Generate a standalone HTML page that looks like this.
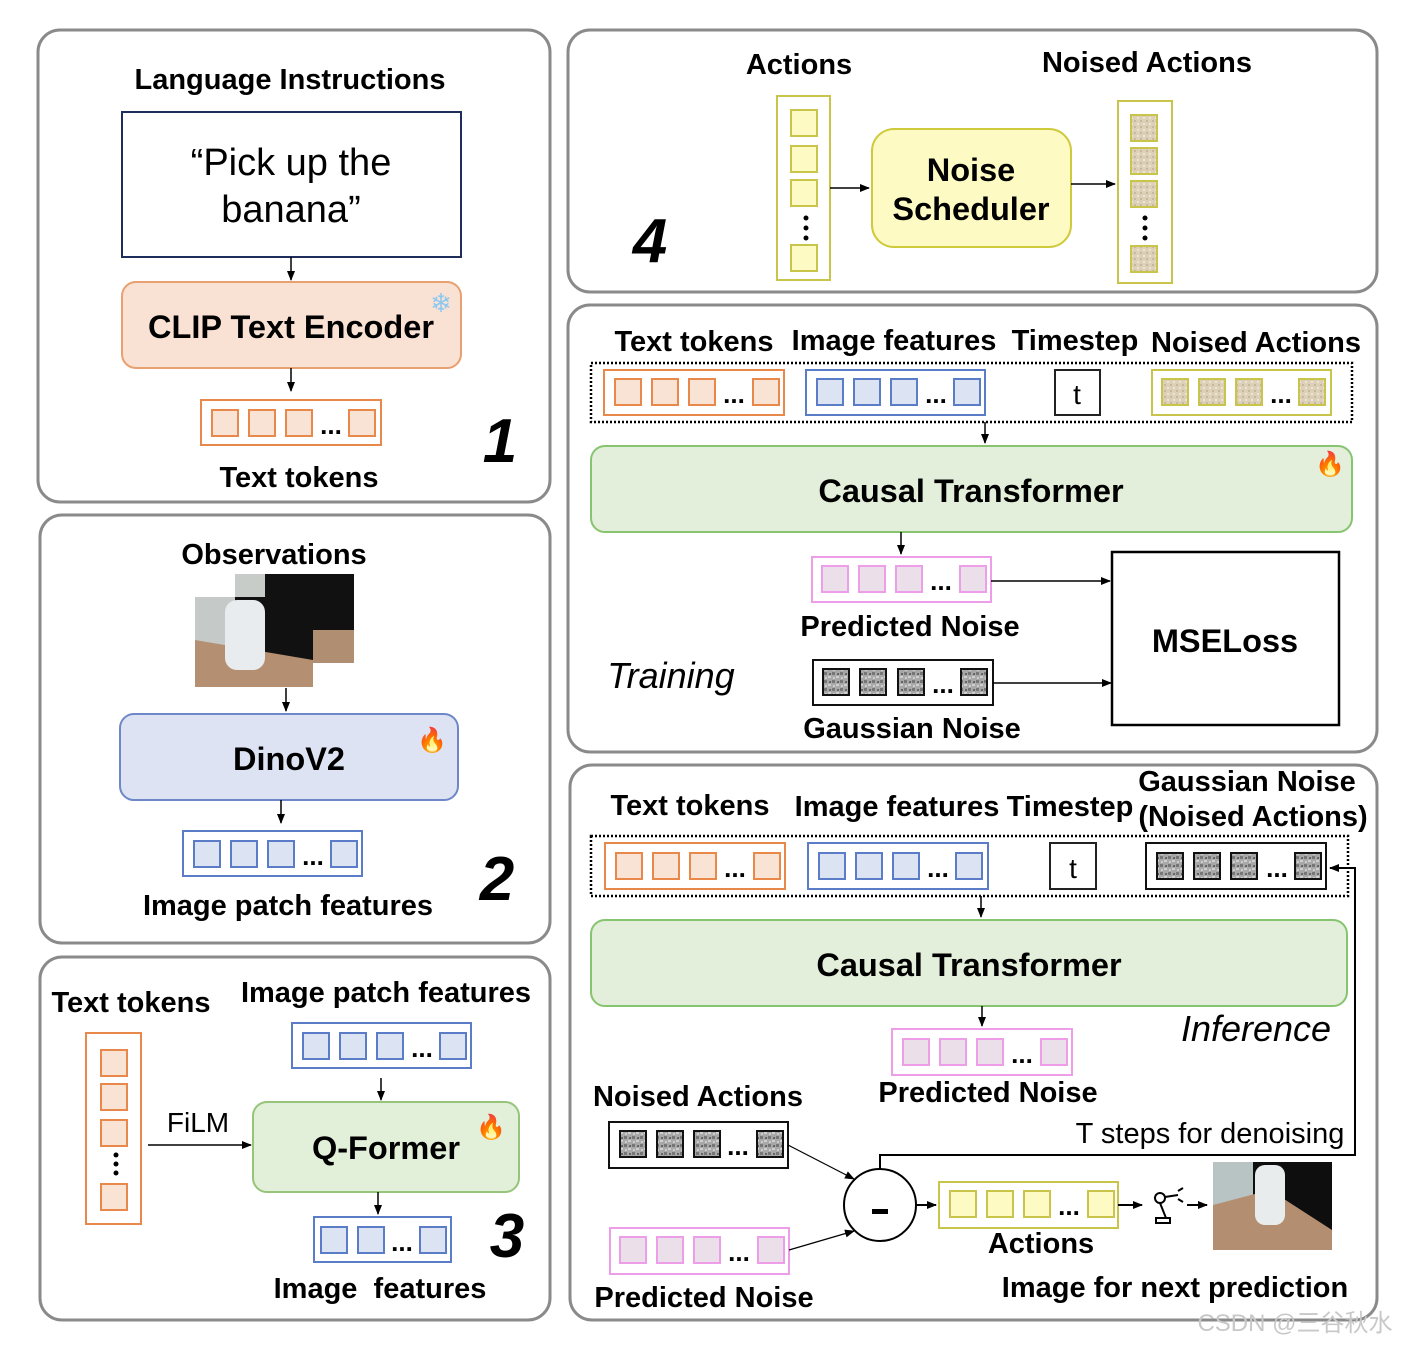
<!DOCTYPE html>
<html><head><meta charset="utf-8"><style>
html,body{margin:0;padding:0;background:#fff;}
svg{display:block;}
text{font-family:"Liberation Sans",Arial,sans-serif;}
.b{font-weight:bold;fill:#000;}
</style></head><body>
<svg width="1404" height="1346" viewBox="0 0 1404 1346" xmlns="http://www.w3.org/2000/svg">
<defs>
<marker id="ar" markerWidth="10" markerHeight="10" refX="9" refY="5" orient="auto" markerUnits="userSpaceOnUse"><path d="M0,1 L10,5 L0,9 z" fill="#000"/></marker>
<pattern id="gn" width="8" height="8" patternUnits="userSpaceOnUse"><rect width="8" height="8" fill="#a8a8a8"/><rect x="0" y="0" width="3" height="3" fill="#777"/><rect x="4" y="4" width="3" height="2" fill="#d0d0d0"/><rect x="5" y="1" width="2" height="2" fill="#666"/><rect x="1" y="5" width="2" height="2" fill="#ccc"/></pattern>
<pattern id="bn" width="6" height="6" patternUnits="userSpaceOnUse"><rect width="6" height="6" fill="#ddd0b8"/><rect x="0" y="0" width="2" height="2" fill="#c8b99c"/><rect x="3" y="3" width="2" height="2" fill="#eee4d2"/></pattern>
</defs>

<g fill="none" stroke="#8a8a8a" stroke-width="3">
<rect x="38" y="30" width="512" height="472" rx="22"/>
<rect x="40" y="515" width="510" height="428" rx="22"/>
<rect x="40" y="957" width="510" height="363" rx="22"/>
<rect x="568" y="30" width="809" height="262" rx="22"/>
<rect x="568" y="305" width="809" height="447" rx="22"/>
<rect x="570" y="765" width="807" height="555" rx="22"/>
</g>

<!-- Panel 1 -->
<text class="b" x="290" y="89" font-size="29" text-anchor="middle">Language Instructions</text>
<rect x="122" y="112" width="339" height="145" fill="#fff" stroke="#1f2d5a" stroke-width="2"/>
<text x="291" y="175" font-size="38" text-anchor="middle">“Pick up the</text>
<text x="291" y="222" font-size="38" text-anchor="middle">banana”</text>
<line x1="291" y1="257" x2="291" y2="280" stroke="#000" stroke-width="1.5" marker-end="url(#ar)"/>
<rect x="122" y="282" width="339" height="86" rx="14" fill="#f9e2d3" stroke="#e8a070" stroke-width="2"/>
<text class="b" x="291" y="338" font-size="32.5" text-anchor="middle">CLIP Text Encoder</text>
<text x="441" y="312" font-size="26" fill="#8cc8f0" text-anchor="middle">❄</text>
<line x1="291" y1="368" x2="291" y2="391" stroke="#000" stroke-width="1.5" marker-end="url(#ar)"/>
<g stroke="#e8884a" stroke-width="2" fill="#f8e3d4">
<rect x="201" y="400" width="180" height="45" fill="none"/>
<rect x="212" y="410" width="26" height="26"/><rect x="249" y="410" width="26" height="26"/><rect x="286" y="410" width="26" height="26"/><rect x="349" y="410" width="26" height="26"/>
</g>
<text class="b" x="331" y="434" font-size="26" text-anchor="middle">...</text>
<text class="b" x="299" y="487" font-size="29" text-anchor="middle">Text tokens</text>
<text class="b" x="500" y="462" font-size="62" font-style="italic" text-anchor="middle">1</text>

<!-- Panel 2 -->
<text class="b" x="274" y="564" font-size="29" text-anchor="middle">Observations</text>
<rect x="235" y="574" width="119" height="89" fill="#111"/>
<rect x="235" y="574" width="30" height="89" fill="#c8ccc8"/>
<rect x="235" y="630" width="119" height="33" fill="#b08e72"/>
<rect x="195" y="597" width="118" height="90" fill="#111"/>
<rect x="195" y="597" width="40" height="90" fill="#c5cac8"/>
<polygon points="195,640 313,660 313,687 195,687" fill="#b48f72"/>
<rect x="225" y="600" width="40" height="70" fill="#e8ecee" rx="12"/>
<line x1="286" y1="688" x2="286" y2="711" stroke="#000" stroke-width="1.5" marker-end="url(#ar)"/>
<rect x="120" y="714" width="338" height="86" rx="14" fill="#dde3f2" stroke="#6e87c8" stroke-width="2"/>
<text class="b" x="289" y="770" font-size="32.5" text-anchor="middle">DinoV2</text>
<text x="432" y="748" font-size="24" fill="#f05a1a" text-anchor="middle">🔥</text>
<line x1="281" y1="800" x2="281" y2="823" stroke="#000" stroke-width="1.5" marker-end="url(#ar)"/>
<g stroke="#5b7cc6" stroke-width="2" fill="#dce3f3">
<rect x="183" y="831" width="179" height="45" fill="none"/>
<rect x="194" y="841" width="26" height="26"/><rect x="231" y="841" width="26" height="26"/><rect x="268" y="841" width="26" height="26"/><rect x="331" y="841" width="26" height="26"/>
</g>
<text class="b" x="313" y="865" font-size="26" text-anchor="middle">...</text>
<text class="b" x="288" y="915" font-size="29" text-anchor="middle">Image patch features</text>
<text class="b" x="497" y="900" font-size="62" font-style="italic" text-anchor="middle">2</text>

<!-- Panel 3 -->
<text class="b" x="131" y="1012" font-size="29" text-anchor="middle">Text tokens</text>
<text class="b" x="386" y="1002" font-size="29" text-anchor="middle">Image patch features</text>
<g stroke="#e8884a" stroke-width="2" fill="#f8e3d4">
<rect x="86" y="1033" width="55" height="191" fill="none"/>
<rect x="101" y="1050" width="26" height="26"/><rect x="101" y="1084" width="26" height="26"/><rect x="101" y="1120" width="26" height="26"/><rect x="101" y="1184" width="26" height="26"/>
</g>
<g fill="#000"><circle cx="116" cy="1155" r="2.5"/><circle cx="116" cy="1164" r="2.5"/><circle cx="116" cy="1173" r="2.5"/></g>
<g stroke="#5b7cc6" stroke-width="2" fill="#dce3f3">
<rect x="292" y="1023" width="179" height="45" fill="none"/>
<rect x="303" y="1033" width="26" height="26"/><rect x="340" y="1033" width="26" height="26"/><rect x="377" y="1033" width="26" height="26"/><rect x="440" y="1033" width="26" height="26"/>
</g>
<text class="b" x="422" y="1057" font-size="26" text-anchor="middle">...</text>
<line x1="381" y1="1078" x2="381" y2="1100" stroke="#000" stroke-width="1.5" marker-end="url(#ar)"/>
<rect x="253" y="1102" width="266" height="90" rx="14" fill="#e3f0d9" stroke="#95c47a" stroke-width="2"/>
<text class="b" x="386" y="1159" font-size="32.5" text-anchor="middle">Q-Former</text>
<text x="491" y="1135" font-size="24" fill="#f05a1a" text-anchor="middle">🔥</text>
<text x="198" y="1132" font-size="28" text-anchor="middle">FiLM</text>
<line x1="148" y1="1145" x2="251" y2="1145" stroke="#000" stroke-width="1.5" marker-end="url(#ar)"/>
<line x1="378" y1="1192" x2="378" y2="1214" stroke="#000" stroke-width="1.5" marker-end="url(#ar)"/>
<g stroke="#5b7cc6" stroke-width="2" fill="#dce3f3">
<rect x="314" y="1217" width="137" height="45" fill="none"/>
<rect x="321" y="1227" width="26" height="26"/><rect x="358" y="1227" width="26" height="26"/><rect x="420" y="1227" width="26" height="26"/>
</g>
<text class="b" x="402" y="1251" font-size="26" text-anchor="middle">...</text>
<text class="b" x="380" y="1298" font-size="29" text-anchor="middle" xml:space="preserve">Image  features</text>
<text class="b" x="507" y="1257" font-size="62" font-style="italic" text-anchor="middle">3</text>

<!-- Panel 4 -->
<text class="b" x="799" y="74" font-size="29" text-anchor="middle">Actions</text>
<text class="b" x="1147" y="72" font-size="29" text-anchor="middle">Noised Actions</text>
<g stroke="#c9c54a" stroke-width="2" fill="#fdfbc3">
<rect x="777" y="96" width="53" height="184" fill="none"/>
<rect x="791" y="110" width="26" height="26"/><rect x="791" y="146" width="26" height="26"/><rect x="791" y="180" width="26" height="26"/><rect x="791" y="245" width="26" height="26"/>
</g>
<g fill="#000"><circle cx="806" cy="218" r="2.5"/><circle cx="806" cy="228" r="2.5"/><circle cx="806" cy="238" r="2.5"/></g>
<line x1="830" y1="188" x2="869" y2="188" stroke="#000" stroke-width="1.5" marker-end="url(#ar)"/>
<rect x="872" y="129" width="199" height="118" rx="22" fill="#fdfbc3" stroke="#cfca3c" stroke-width="2"/>
<text class="b" x="971" y="181" font-size="32.5" text-anchor="middle">Noise</text>
<text class="b" x="971" y="220" font-size="32.5" text-anchor="middle">Scheduler</text>
<line x1="1071" y1="184" x2="1115" y2="184" stroke="#000" stroke-width="1.5" marker-end="url(#ar)"/>
<g stroke="#c9c54a" stroke-width="2" fill="url(#bn)">
<rect x="1118" y="101" width="54" height="182" fill="none"/>
<rect x="1131" y="115" width="26" height="26"/><rect x="1131" y="148" width="26" height="26"/><rect x="1131" y="181" width="26" height="26"/><rect x="1131" y="246" width="26" height="26"/>
</g>
<g fill="#000"><circle cx="1145" cy="218" r="2.5"/><circle cx="1145" cy="228" r="2.5"/><circle cx="1145" cy="238" r="2.5"/></g>
<text class="b" x="650" y="262" font-size="62" font-style="italic" text-anchor="middle">4</text>

<!-- Panel 5 -->
<text class="b" x="694" y="351" font-size="29" text-anchor="middle">Text tokens</text>
<text class="b" x="894" y="350" font-size="29" text-anchor="middle">Image features</text>
<text class="b" x="1075" y="350" font-size="29" text-anchor="middle">Timestep</text>
<text class="b" x="1256" y="352" font-size="29" text-anchor="middle">Noised Actions</text>
<rect x="591" y="363" width="761" height="59" fill="none" stroke="#000" stroke-width="2.5" stroke-dasharray="2,2"/>
<g stroke="#e8884a" stroke-width="2" fill="#f8e3d4">
<rect x="604" y="370" width="180" height="45" fill="none"/>
<rect x="615" y="379" width="26" height="26"/><rect x="652" y="379" width="26" height="26"/><rect x="689" y="379" width="26" height="26"/><rect x="753" y="379" width="26" height="26"/>
</g>
<text class="b" x="734" y="403" font-size="26" text-anchor="middle">...</text>
<g stroke="#5b7cc6" stroke-width="2" fill="#dce3f3">
<rect x="806" y="370" width="179" height="45" fill="none"/>
<rect x="817" y="379" width="26" height="26"/><rect x="854" y="379" width="26" height="26"/><rect x="891" y="379" width="26" height="26"/><rect x="954" y="379" width="26" height="26"/>
</g>
<text class="b" x="936" y="403" font-size="26" text-anchor="middle">...</text>
<rect x="1055" y="370" width="45" height="45" fill="#fff" stroke="#222" stroke-width="2"/>
<text x="1077" y="404" font-size="28" text-anchor="middle" font-family="Liberation Serif">t</text>
<g stroke="#c9c54a" stroke-width="2" fill="url(#bn)">
<rect x="1152" y="370" width="179" height="45" fill="none"/>
<rect x="1162" y="379" width="26" height="26"/><rect x="1199" y="379" width="26" height="26"/><rect x="1236" y="379" width="26" height="26"/><rect x="1299" y="379" width="26" height="26"/>
</g>
<text class="b" x="1281" y="403" font-size="26" text-anchor="middle">...</text>
<line x1="985" y1="422" x2="985" y2="443" stroke="#000" stroke-width="1.5" marker-end="url(#ar)"/>
<rect x="591" y="446" width="761" height="86" rx="14" fill="#e3efda" stroke="#87c470" stroke-width="2"/>
<text class="b" x="971" y="502" font-size="32.5" text-anchor="middle">Causal Transformer</text>
<text x="1330" y="472" font-size="24" fill="#f05a1a" text-anchor="middle">🔥</text>
<line x1="901" y1="532" x2="901" y2="554" stroke="#000" stroke-width="1.5" marker-end="url(#ar)"/>
<g stroke="#ee9de8" stroke-width="2" fill="#ebdfe9">
<rect x="812" y="557" width="179" height="45" fill="none"/>
<rect x="822" y="566" width="26" height="26"/><rect x="859" y="566" width="26" height="26"/><rect x="896" y="566" width="26" height="26"/><rect x="960" y="566" width="26" height="26"/>
</g>
<text class="b" x="941" y="590" font-size="26" text-anchor="middle">...</text>
<line x1="991" y1="581" x2="1110" y2="581" stroke="#000" stroke-width="1.5" marker-end="url(#ar)"/>
<text class="b" x="910" y="636" font-size="29" text-anchor="middle">Predicted Noise</text>
<rect x="1112" y="552" width="227" height="173" fill="#fff" stroke="#000" stroke-width="2.5"/>
<text class="b" x="1225" y="652" font-size="32.5" text-anchor="middle">MSELoss</text>
<text x="671" y="688" font-size="36" font-style="italic" text-anchor="middle" font-family="Liberation Serif">Training</text>
<g stroke="#111" stroke-width="2" fill="url(#gn)">
<rect x="813" y="660" width="180" height="45" fill="none"/>
<rect x="823" y="669" width="26" height="26"/><rect x="860" y="669" width="26" height="26"/><rect x="898" y="669" width="26" height="26"/><rect x="961" y="669" width="26" height="26"/>
</g>
<text class="b" x="943" y="693" font-size="26" text-anchor="middle">...</text>
<line x1="993" y1="683" x2="1111" y2="683" stroke="#000" stroke-width="1.5" marker-end="url(#ar)"/>
<text class="b" x="912" y="738" font-size="29" text-anchor="middle">Gaussian Noise</text>

<!-- Panel 6 -->
<text class="b" x="690" y="815" font-size="29" text-anchor="middle">Text tokens</text>
<text class="b" x="897" y="816" font-size="29" text-anchor="middle">Image features</text>
<text class="b" x="1070" y="816" font-size="29" text-anchor="middle">Timestep</text>
<text class="b" x="1247" y="791" font-size="29" text-anchor="middle">Gaussian Noise</text>
<text class="b" x="1253" y="826" font-size="29" text-anchor="middle">(Noised Actions)</text>
<rect x="591" y="836" width="757" height="60" fill="none" stroke="#000" stroke-width="2.5" stroke-dasharray="2,2"/>
<g stroke="#e8884a" stroke-width="2" fill="#f8e3d4">
<rect x="605" y="843" width="180" height="46" fill="none"/>
<rect x="616" y="853" width="26" height="26"/><rect x="653" y="853" width="26" height="26"/><rect x="690" y="853" width="26" height="26"/><rect x="754" y="853" width="26" height="26"/>
</g>
<text class="b" x="735" y="877" font-size="26" text-anchor="middle">...</text>
<g stroke="#5b7cc6" stroke-width="2" fill="#dce3f3">
<rect x="808" y="843" width="180" height="46" fill="none"/>
<rect x="819" y="853" width="26" height="26"/><rect x="856" y="853" width="26" height="26"/><rect x="893" y="853" width="26" height="26"/><rect x="956" y="853" width="26" height="26"/>
</g>
<text class="b" x="938" y="877" font-size="26" text-anchor="middle">...</text>
<rect x="1050" y="843" width="46" height="46" fill="#fff" stroke="#222" stroke-width="2"/>
<text x="1073" y="878" font-size="28" text-anchor="middle" font-family="Liberation Serif">t</text>
<g stroke="#111" stroke-width="2" fill="url(#gn)">
<rect x="1146" y="843" width="180" height="46" fill="none"/>
<rect x="1157" y="853" width="26" height="26"/><rect x="1194" y="853" width="26" height="26"/><rect x="1231" y="853" width="26" height="26"/><rect x="1295" y="853" width="26" height="26"/>
</g>
<text class="b" x="1277" y="877" font-size="26" text-anchor="middle">...</text>
<line x1="981" y1="896" x2="981" y2="917" stroke="#000" stroke-width="1.5" marker-end="url(#ar)"/>
<rect x="591" y="920" width="756" height="86" rx="14" fill="#e3efda" stroke="#87c470" stroke-width="2"/>
<text class="b" x="969" y="976" font-size="32.5" text-anchor="middle">Causal Transformer</text>
<line x1="982" y1="1006" x2="982" y2="1026" stroke="#000" stroke-width="1.5" marker-end="url(#ar)"/>
<g stroke="#ee9de8" stroke-width="2" fill="#ebdfe9">
<rect x="892" y="1029" width="180" height="46" fill="none"/>
<rect x="903" y="1039" width="26" height="26"/><rect x="940" y="1039" width="26" height="26"/><rect x="977" y="1039" width="26" height="26"/><rect x="1041" y="1039" width="26" height="26"/>
</g>
<text class="b" x="1022" y="1063" font-size="26" text-anchor="middle">...</text>
<text x="1256" y="1041" font-size="36" font-style="italic" text-anchor="middle" font-family="Liberation Serif">Inference</text>
<text class="b" x="988" y="1102" font-size="29" text-anchor="middle">Predicted Noise</text>
<text class="b" x="698" y="1106" font-size="29" text-anchor="middle">Noised Actions</text>
<text x="1210" y="1143" font-size="29" text-anchor="middle">T steps for denoising</text>
<g stroke="#111" stroke-width="2" fill="url(#gn)">
<rect x="609" y="1122" width="179" height="46" fill="none"/>
<rect x="620" y="1131" width="26" height="26"/><rect x="657" y="1131" width="26" height="26"/><rect x="694" y="1131" width="26" height="26"/><rect x="757" y="1131" width="26" height="26"/>
</g>
<text class="b" x="738" y="1155" font-size="26" text-anchor="middle">...</text>
<g stroke="#ee9de8" stroke-width="2" fill="#ebdfe9">
<rect x="610" y="1228" width="179" height="46" fill="none"/>
<rect x="620" y="1237" width="26" height="26"/><rect x="657" y="1237" width="26" height="26"/><rect x="694" y="1237" width="26" height="26"/><rect x="758" y="1237" width="26" height="26"/>
</g>
<text class="b" x="739" y="1261" font-size="26" text-anchor="middle">...</text>
<line x1="788" y1="1145" x2="854" y2="1179" stroke="#000" stroke-width="1.2" marker-end="url(#ar)"/>
<line x1="789" y1="1250" x2="854" y2="1231" stroke="#000" stroke-width="1.2" marker-end="url(#ar)"/>
<ellipse cx="880" cy="1205" rx="36" ry="36" fill="#fff" stroke="#000" stroke-width="2"/>
<rect x="872" y="1209" width="16" height="5" fill="#000"/>
<polyline points="880,1169 880,1155 1355,1155 1355,868 1330,868" fill="none" stroke="#000" stroke-width="2" marker-end="url(#ar)"/>
<line x1="916" y1="1205" x2="936" y2="1205" stroke="#000" stroke-width="2" marker-end="url(#ar)"/>
<g stroke="#c9c54a" stroke-width="2" fill="#fdfbc3">
<rect x="939" y="1182" width="179" height="46" fill="none"/>
<rect x="950" y="1191" width="26" height="26"/><rect x="987" y="1191" width="26" height="26"/><rect x="1024" y="1191" width="26" height="26"/><rect x="1088" y="1191" width="26" height="26"/>
</g>
<text class="b" x="1069" y="1215" font-size="26" text-anchor="middle">...</text>
<text class="b" x="1041" y="1253" font-size="29" text-anchor="middle">Actions</text>
<line x1="1118" y1="1205" x2="1142" y2="1205" stroke="#000" stroke-width="2" marker-end="url(#ar)"/>
<g fill="none" stroke="#000" stroke-width="2">
<circle cx="1160" cy="1198" r="5"/>
<line x1="1160" y1="1203" x2="1166" y2="1218"/>
<rect x="1156" y="1218" width="14" height="5"/>
<line x1="1165" y1="1197" x2="1178" y2="1195"/>
<path d="M1178,1191 l5,-3 M1178,1199 l5,3"/>
</g>
<line x1="1187" y1="1205" x2="1207" y2="1205" stroke="#000" stroke-width="2" marker-end="url(#ar)"/>
<rect x="1213" y="1162" width="119" height="88" fill="#0e0e0e"/>
<rect x="1213" y="1162" width="40" height="50" fill="#b8c4c4"/>
<polygon points="1213,1205 1270,1190 1332,1230 1332,1250 1213,1250" fill="#b48e70"/>
<rect x="1255" y="1165" width="30" height="60" rx="10" fill="#e8ecec"/>
<text class="b" x="1175" y="1297" font-size="29" text-anchor="middle">Image for next prediction</text>
<text class="b" x="704" y="1307" font-size="29" text-anchor="middle">Predicted Noise</text>
<text x="1295" y="1331" font-size="24" fill="#c8c8c8" text-anchor="middle" font-family="Liberation Sans, Noto Sans CJK SC, sans-serif">CSDN @三谷秋水</text>
</svg>
</body></html>
